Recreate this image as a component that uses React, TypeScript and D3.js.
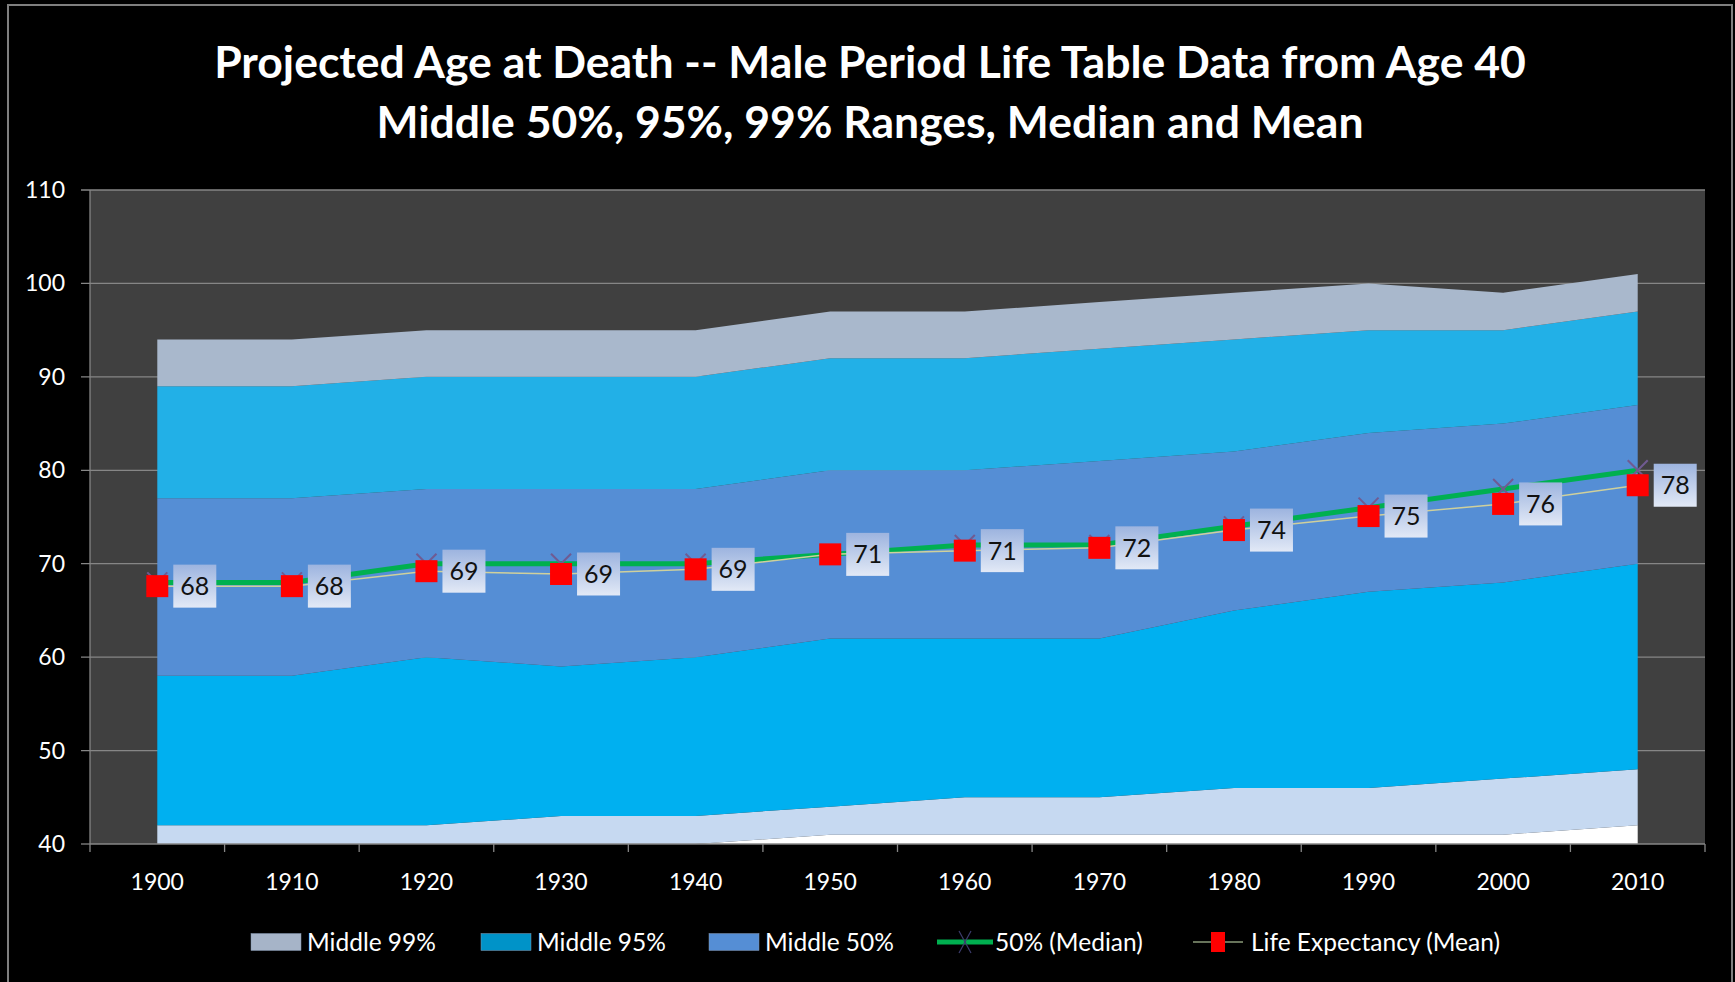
import * as d3 from 'd3';

const years = ['1900', '1910', '1920', '1930', '1940', '1950', '1960', '1970', '1980', '1990', '2000', '2010'];

// percentile bounds of projected age at death
const p005 = [40, 40, 40, 40, 40, 41, 41, 41, 41, 41, 41, 42];
const p025 = [42, 42, 42, 43, 43, 44, 45, 45, 46, 46, 47, 48];
const p25 = [58, 58, 60, 59, 60, 62, 62, 62, 65, 67, 68, 70];
const median = [68, 68, 70, 70, 70, 71, 72, 72, 74, 76, 78, 80];
const p75 = [77, 77, 78, 78, 78, 80, 80, 81, 82, 84, 85, 87];
const p975 = [89, 89, 90, 90, 90, 92, 92, 93, 94, 95, 95, 97];
const p995 = [94, 94, 95, 95, 95, 97, 97, 98, 99, 100, 99, 101];
const mean = [67.6, 67.6, 69.2, 68.9, 69.4, 71.0, 71.4, 71.7, 73.6, 75.1, 76.4, 78.4];

const yTicks = [40, 50, 60, 70, 80, 90, 100, 110];

const W = 1735;
const H = 982;
const PLOT = { left: 90, right: 1705, top: 190, bottom: 844 };
const FONT = 'Lato, "Open Sans", sans-serif';

const bands = [
  { lo: null, hi: p005, color: '#ffffff' },
  { lo: p005, hi: p025, color: '#c6d9f1' },
  { lo: p025, hi: p25, color: '#00b0f0' },
  { lo: p25, hi: p75, color: '#558ed5' },
  { lo: p75, hi: p975, color: '#22b0e7' },
  { lo: p975, hi: p995, color: '#a9b8cc' },
];

const legendItems = [
  { label: 'Middle 99%', kind: 'box', color: '#a6b4c8', x: 251 },
  { label: 'Middle 95%', kind: 'box', color: '#0093c8', x: 481 },
  { label: 'Middle 50%', kind: 'box', color: '#558ed5', x: 709 },
  { label: '50% (Median)', kind: 'median', color: '#00b050', x: 937 },
  { label: 'Life Expectancy (Mean)', kind: 'mean', color: '#ff0000', x: 1193 },
];

export default function App() {
  const x = d3.scaleBand<string>().domain(years).range([PLOT.left, PLOT.right]);
  const cx = (i: number) => (x(years[i]) ?? 0) + x.bandwidth() / 2;
  const y = d3.scaleLinear().domain([40, 110]).range([PLOT.bottom, PLOT.top]);

  const idx = years.map((_, i) => i);
  const areaFor = (lo: number[] | null, hi: number[]) =>
    d3
      .area<number>()
      .x((i) => cx(i))
      .y0((i) => y(lo ? lo[i] : 40))
      .y1((i) => y(hi[i]))(idx) ?? '';

  const lineFor = (vals: number[]) =>
    d3
      .line<number>()
      .x((i) => cx(i))
      .y((i) => y(vals[i]))(idx) ?? '';

  const tickXs = [...years.map((yr) => x(yr) ?? 0), PLOT.right];

  return (
    <svg width={W} height={H} style={{ position: 'absolute', left: 0, top: 0, background: '#000' }}>
      <defs>
        <linearGradient id="lblGrad" x1="0" y1="0" x2="0" y2="1">
          <stop offset="0%" stopColor="#9db4df" />
          <stop offset="100%" stopColor="#e2e9f6" />
        </linearGradient>
        <clipPath id="plotClip">
          <rect x={PLOT.left} y={PLOT.top} width={PLOT.right - PLOT.left} height={PLOT.bottom - PLOT.top} />
        </clipPath>
      </defs>
      <rect x={0} y={0} width={W} height={H} fill="#000" />
      <rect x={8} y={5} width={1724} height={H + 10} fill="none" stroke="#7f7f7f" strokeWidth={2} />

      {/* title */}
      <text x={870} y={78} textAnchor="middle" fill="#fff" fontFamily={FONT} fontWeight={700} fontSize={44.5}>
        Projected Age at Death -- Male Period Life Table Data from Age 40
      </text>
      <text x={870} y={138} textAnchor="middle" fill="#fff" fontFamily={FONT} fontWeight={700} fontSize={44.5}>
        Middle 50%, 95%, 99% Ranges, Median and Mean
      </text>

      {/* plot background and gridlines */}
      <rect x={PLOT.left} y={PLOT.top} width={PLOT.right - PLOT.left} height={PLOT.bottom - PLOT.top} fill="#404040" />
      {yTicks.map((t) => (
        <g key={t}>
          <line x1={PLOT.left - 9} x2={t === 40 ? PLOT.left : PLOT.right} y1={y(t)} y2={y(t)} stroke="#868686" strokeWidth={1.3} />
          <text x={65} y={y(t)} dy="0.35em" textAnchor="end" fill="#fff" fontFamily={FONT} fontSize={23}>
            {t}
          </text>
        </g>
      ))}

      {/* stacked bands */}
      <g clipPath="url(#plotClip)">
        {bands.map((b, i) => (
          <path key={i} d={areaFor(b.lo, b.hi)} fill={b.color} />
        ))}
      </g>

      {/* axes */}
      <line x1={PLOT.left} x2={PLOT.left} y1={PLOT.top} y2={PLOT.bottom} stroke="#868686" strokeWidth={1.3} />
      <line x1={PLOT.left} x2={PLOT.right} y1={PLOT.bottom} y2={PLOT.bottom} stroke="#868686" strokeWidth={1.3} />
      {tickXs.map((tx, i) => (
        <line key={i} x1={tx} x2={tx} y1={PLOT.bottom} y2={PLOT.bottom + 8} stroke="#868686" strokeWidth={1.3} />
      ))}
      {years.map((yr, i) => (
        <text key={yr} x={cx(i)} y={890} textAnchor="middle" fill="#fff" fontFamily={FONT} fontSize={23}>
          {yr}
        </text>
      ))}

      {/* median line with x markers */}
      <path d={lineFor(median)} fill="none" stroke="#00b050" strokeWidth={5} />
      {median.map((v, i) => (
        <g key={i} stroke="#705b92" strokeWidth={2}>
          <line x1={cx(i) - 10} x2={cx(i) + 10} y1={y(v) - 10} y2={y(v) + 10} />
          <line x1={cx(i) - 10} x2={cx(i) + 10} y1={y(v) + 10} y2={y(v) - 10} />
        </g>
      ))}

      {/* mean line, markers and labels */}
      <path d={lineFor(mean)} fill="none" stroke="#cfd09c" strokeWidth={1.5} />
      {mean.map((v, i) => (
        <g key={i}>
          <rect x={cx(i) - 11} y={y(v) - 11} width={22} height={22} fill="#ff0000" />
          <rect x={cx(i) + 16} y={y(v) - 21.5} width={43} height={43} fill="url(#lblGrad)" />
          <text x={cx(i) + 37.5} y={y(v)} dy="0.36em" textAnchor="middle" fill="#111" fontFamily={FONT} fontSize={25}>
            {Math.round(v)}
          </text>
        </g>
      ))}

      {/* legend */}
      {legendItems.map((it) => (
        <g key={it.label} transform={`translate(${it.x},942)`}>
          {it.kind === 'box' && <rect x={0} y={-8.5} width={50} height={17} fill={it.color} stroke="#8496b0" strokeWidth={0.5} />}
          {it.kind === 'median' && (
            <g>
              <line x1={0} x2={56} y1={0} y2={0} stroke={it.color} strokeWidth={5} />
              <line x1={22} x2={34} y1={-11} y2={11} stroke="#3d3d6e" strokeWidth={1.2} />
              <line x1={22} x2={34} y1={11} y2={-11} stroke="#3d3d6e" strokeWidth={1.2} />
            </g>
          )}
          {it.kind === 'mean' && (
            <g>
              <line x1={0} x2={50} y1={0} y2={0} stroke="#8a9a78" strokeWidth={1.5} />
              <rect x={18} y={-10} width={14} height={20} fill={it.color} />
            </g>
          )}
          <text x={it.kind === 'box' ? 56 : 58} y={0} dy="0.35em" fill="#fff" fontFamily={FONT} fontSize={24.5}>
            {it.label}
          </text>
        </g>
      ))}
    </svg>
  );
}
